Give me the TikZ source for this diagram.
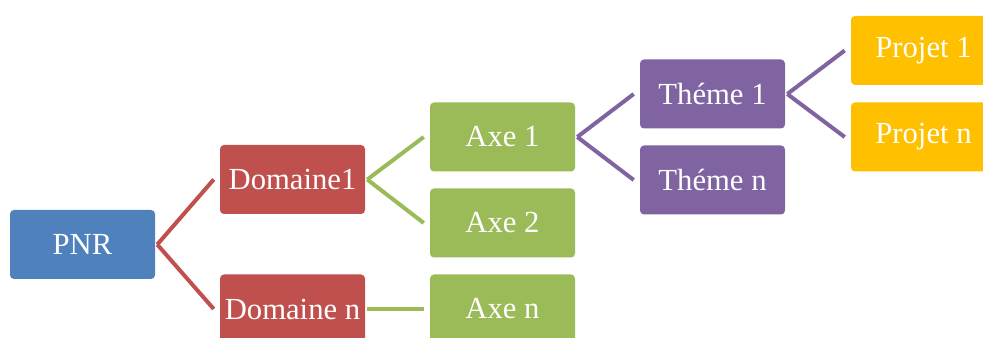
\documentclass[tikz,border=0pt]{standalone}
\usepackage{fontspec}
\setmainfont{Liberation Serif}
\definecolor{pnrblue}{HTML}{4F81BD}
\definecolor{domred}{HTML}{C0504D}
\definecolor{axegreen}{HTML}{9BBB59}
\definecolor{themepurple}{HTML}{8064A2}
\definecolor{projorange}{HTML}{FFC000}
\tikzset{
  box/.style={rounded corners=3pt, minimum width=108.75pt, minimum height=51.75pt,
              inner sep=0pt, text=white, font=\fontsize{23}{27}\selectfont},
  link/.style={draw=#1, line width=3pt}
}

\begin{document}
\begin{tikzpicture}[x=0.75pt, y=-0.75pt]
                \clip (0,0) rectangle (983,338);
                \node[box, fill=pnrblue] (0) at (82.5, 244.5) {PNR};
                \node[box, fill=domred] (1) at (292.5, 179.5) {Domaine1};
                \node[box, fill=domred] (2) at (292.5, 309) {Domaine n};
                \node[box, fill=axegreen] (3) at (502.5, 137) {Axe 1};
                \node[box, fill=axegreen] (4) at (502.5, 223) {Axe 2};
                \node[box, fill=axegreen] (5) at (502.5, 309) {Axe n};
                \node[box, fill=themepurple] (6) at (712.5, 94) {Théme 1};
                \node[box, fill=themepurple] (7) at (712.5, 180) {Théme n};
                \node[box, fill=projorange] (8) at (923.5, 50.5) {Projet 1};
                \node[box, fill=projorange] (9) at (923.5, 137) {Projet n};
                \path[link=domred] ([xshift=1.5pt]0.east) edge ([xshift=-4.5pt]1.west)
                                   ([xshift=1.5pt]0.east) edge ([xshift=-4.5pt]2.west);
                \path[link=axegreen] ([xshift=1.5pt]1.east) edge ([xshift=-4.5pt]3.west)
                                     ([xshift=1.5pt]1.east) edge ([xshift=-4.5pt]4.west)
                                     ([xshift=1.5pt]2.east) edge ([xshift=-4.5pt]5.west);
                \path[link=themepurple] ([xshift=1.5pt]3.east) edge ([xshift=-4.5pt]6.west)
                                        ([xshift=1.5pt]3.east) edge ([xshift=-4.5pt]7.west)
                                        ([xshift=1.5pt]6.east) edge ([xshift=-4.5pt]8.west)
                                        ([xshift=1.5pt]6.east) edge ([xshift=-4.5pt]9.west);
            \end{tikzpicture}
\end{document}
